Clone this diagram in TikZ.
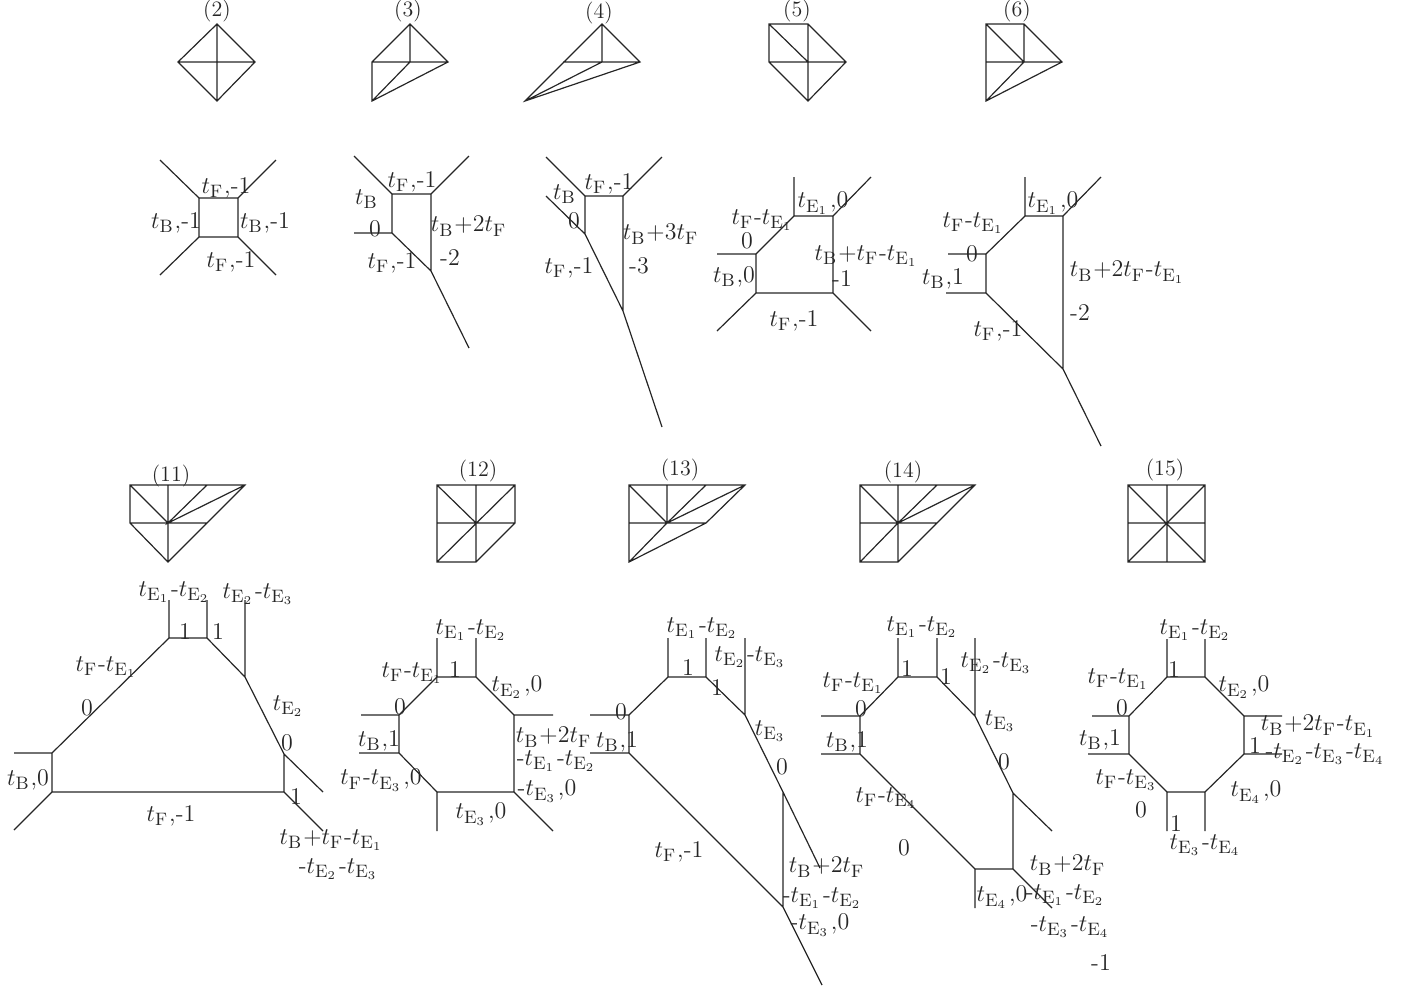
\documentclass[tikz,border=0pt]{standalone}
\newcommand{\tB}{$t_{\mathrm{B}}$}
\newcommand{\tF}{$t_{\mathrm{F}}$}
\newcommand{\tE}[1]{$t_{\mathrm{E}_{#1}}$}
\newcounter{labn}
\newcommand{\lb}[3]{\stepcounter{labn}\node[lab] (l\thelabn) at (#1,#2) {#3};}
\newcommand{\ttl}[3]{\stepcounter{labn}\node[ttlab] (l\thelabn) at (#1,#2) {#3};}
\scriptspace=1pt
\DeclareMathSizes{12}{12}{8.6}{6.2}
\tikzset{
  lab/.style={inner sep=0pt,outer sep=0pt,text=black!85,font=\fontsize{12}{14}\selectfont},
  ttlab/.style={lab,font=\fontsize{11}{13}\selectfont},
  web/.style={line width=0.6pt,line join=miter,black!85},
  toric/.style={line width=0.6pt,black!85}
}
\begin{document}
\begin{tikzpicture}[x=0.5pt,y=-0.5pt]
\useasboundingbox (0,0) rectangle (1405,987);
% ---- toric diagrams, row 1
\draw[toric] (217,24)--(255,62)--(217,101)--(178,62)--cycle (217,24)--(217,101) (178,62)--(255,62);
\draw[toric] (410,24)--(448,62)--(372,101)--(372,62)--cycle (410,24)--(410,62)--(372,101) (372,62)--(448,62);
\draw[toric] (602,24)--(640,62)--(525,101)--cycle (602,24)--(602,62)--(525,101) (563,62)--(640,62);
\draw[toric] (769,24)--(808,24)--(846,62)--(808,101)--(769,62)--cycle (769,24)--(808,62) (808,24)--(808,101) (769,62)--(846,62);
\draw[toric] (986,24)--(1024,24)--(1062,62)--(986,101)--cycle (986,24)--(1024,62)--(986,101) (1024,24)--(1024,62) (986,62)--(1062,62);
% ---- toric diagrams, row 2
\draw[toric] (130,485)--(245,485)--(168,562)--(130,523)--cycle (130,485)--(168,523) (168,485)--(168,562) (207,485)--(168,523)--(245,485) (130,523)--(207,523);
\draw[toric] (437,485)--(515,485)--(515,523)--(476,562)--(437,562)--cycle (437,485)--(476,523) (476,485)--(476,562) (515,485)--(437,562) (437,523)--(515,523);
\draw[toric] (629,485)--(745,485)--(706,523)--(629,562)--cycle (629,485)--(667,523) (667,485)--(667,523) (706,485)--(667,523)--(745,485) (667,523)--(629,562) (629,523)--(706,523);
\draw[toric] (860,485)--(975,485)--(898,562)--(860,562)--cycle (860,485)--(898,523) (898,485)--(898,562) (937,485)--(898,523)--(975,485) (898,523)--(860,562) (860,523)--(937,523);
\draw[toric] (1128,485) rectangle (1205,562) (1128,485)--(1205,562) (1205,485)--(1128,562) (1167,485)--(1167,562) (1128,523)--(1205,523);
% ---- titles
\ttl{217}{11}{(2)}\ttl{408}{11}{(3)}\ttl{599}{13}{(4)}\ttl{797}{11}{(5)}\ttl{1017}{11}{(6)}
\ttl{171}{476}{(11)}\ttl{478}{471}{(12)}\ttl{680}{470}{(13)}\ttl{903}{472}{(14)}\ttl{1165}{470}{(15)}
% ---- web (2)
\draw[web] (199,198) rectangle (238,237) (199,198)--(160,160) (238,198)--(276,160) (199,237)--(160,275) (238,237)--(276,275);
\lb{226}{188}{\tF,-1}\lb{176}{223}{\tB,-1}\lb{265}{223}{\tB,-1}\lb{231}{262}{\tF,-1}
% ---- web (3)
\draw[web] (392,194)--(431,194)--(431,271)--(392,233)--cycle (392,194)--(354,156) (431,194)--(469,156) (392,233)--(354,233) (431,271)--(469,348);
\lb{412}{182}{\tF,-1}\lb{367}{199}{\tB}\lb{375}{229}{0}\lb{469}{226}{\tB+2\tF}\lb{450}{258}{-2}\lb{392}{263}{\tF,-1}
% ---- web (4)
\draw[web] (585,196)--(623,196)--(623,311)--(585,234)--cycle (585,196)--(546,157) (623,196)--(662,157) (585,234)--(546,196) (623,311)--(662,427);
\lb{609}{184}{\tF,-1}\lb{565}{194}{\tB}\lb{574}{221}{0}\lb{661}{234}{\tB+3\tF}\lb{639}{266}{-3}\lb{569}{268}{\tF,-1}
% ---- web (5)
\draw[web] (794,216)--(833,216)--(833,293)--(756,293)--(756,254)--cycle (794,216)--(794,177) (833,216)--(871,177) (756,254)--(717,254) (756,293)--(717,331) (833,293)--(871,331);
\lb{823}{203}{\tE{1},0}\lb{763}{220}{\tF-\tE{1}}\lb{747}{241}{0}\lb{867}{256}{\tB+\tF-\tE{1}}\lb{842}{279}{-1}\lb{734}{277}{\tB,0}\lb{794}{321}{\tF,-1}
% ---- web (6)
\draw[web] (1025,216)--(1063,216)--(1063,369)--(986,293)--(986,254)--cycle (1025,216)--(1025,177) (1063,216)--(1101,177) (986,254)--(948,254) (986,293)--(946,293) (1063,369)--(1101,446);
\lb{1053}{203}{\tE{1},0}\lb{974}{223}{\tF-\tE{1}}\lb{972}{254}{0}\lb{1128}{272}{\tB+2\tF-\tE{1}}\lb{1080}{313}{-2}\lb{943}{279}{\tB,1}\lb{998}{331}{\tF,-1}
% ---- web (11)
\draw[web] (169,638)--(207,638)--(245,677)--(284,754)--(284,792)--(52,792)--(52,753)--cycle (169,638)--(169,600) (207,638)--(207,600) (245,677)--(245,600) (284,754)--(323,792) (284,792)--(323,831) (52,753)--(14,753) (52,792)--(14,830);
\lb{175}{592}{\tE{1}-\tE{2}}\lb{259}{594}{\tE{2}-\tE{3}}\lb{185}{632}{1}\lb{218}{632}{1}\lb{107}{667}{\tF-\tE{1}}\lb{87}{708}{0}\lb{289}{706}{\tE{2}}\lb{287}{743}{0}\lb{28}{780}{\tB,0}\lb{171}{816}{\tF,-1}\lb{296}{797}{1}\lb{332}{840}{\tB+\tF-\tE{1}}\lb{339}{869}{-\tE{2}-\tE{3}}
% ---- web (12)
\draw[web] (437,677)--(476,677)--(514,715)--(514,792)--(437,792)--(399,753)--(399,715)--cycle (437,677)--(437,638) (476,677)--(476,638) (514,715)--(553,715) (399,715)--(361,715) (399,753)--(359,753) (437,792)--(437,831) (514,792)--(553,831);
\lb{472}{630}{\tE{1}-\tE{2}}\lb{455}{670}{1}\lb{413}{673}{\tF-\tE{1}}\lb{400}{707}{0}\lb{517}{687}{\tE{2},0}\lb{379}{741}{\tB,1}\lb{554}{737}{\tB+2\tF}\lb{557}{761}{-\tE{1}-\tE{2}}\lb{547}{791}{-\tE{3},0}\lb{381}{780}{\tF-\tE{3},0}\lb{481}{814}{\tE{3},0}
% ---- web (13)
\draw[web] (668,677)--(706,677)--(745,715)--(783,792)--(783,907)--(629,753)--(629,715)--cycle (668,677)--(668,638) (706,677)--(706,638) (745,715)--(745,638) (783,792)--(820,868) (783,907)--(822,985) (629,715)--(590,715) (629,753)--(590,753);
\lb{703}{628}{\tE{1}-\tE{2}}\lb{688}{668}{1}\lb{751}{657}{\tE{2}-\tE{3}}\lb{717}{688}{1}\lb{621}{712}{0}\lb{617}{742}{\tB,1}\lb{771}{731}{\tE{3}}\lb{782}{767}{0}\lb{679}{852}{\tF,-1}\lb{827}{867}{\tB+2\tF}\lb{823}{898}{-\tE{1}-\tE{2}}\lb{820}{925}{-\tE{3},0}
% ---- web (14)
\draw[web] (898,677)--(937,677)--(975,716)--(1013,793)--(1013,869)--(975,869)--(860,754)--(860,716)--cycle (898,677)--(898,638) (937,677)--(937,638) (975,716)--(975,638) (1013,793)--(1052,831) (1013,869)--(1052,908) (975,869)--(975,908) (860,716)--(821,716) (860,754)--(821,754);
\lb{923}{627}{\tE{1}-\tE{2}}\lb{907}{669}{1}\lb{946}{677}{1}\lb{854}{683}{\tF-\tE{1}}\lb{861}{709}{0}\lb{997}{663}{\tE{2}-\tE{3}}\lb{1001}{721}{\tE{3}}\lb{847}{742}{\tB,1}\lb{1004}{762}{0}\lb{887}{798}{\tF-\tE{4}}\lb{904}{848}{0}\lb{1068}{865}{\tB+2\tF}\lb{1002}{897}{\tE{4},0}\lb{1066}{895}{-\tE{1}-\tE{2}}\lb{1071}{927}{-\tE{3}-\tE{4}}\lb{1101}{963}{-1}
% ---- web (15)
\draw[web] (1167,677)--(1205,677)--(1244,716)--(1244,754)--(1205,792)--(1167,792)--(1129,754)--(1129,716)--cycle (1167,677)--(1167,639) (1205,677)--(1205,639) (1244,716)--(1282,716) (1244,754)--(1282,754) (1205,792)--(1205,831) (1167,792)--(1167,831) (1129,716)--(1092,716) (1129,754)--(1088,754);
\lb{1196}{630}{\tE{1}-\tE{2}}\lb{1174}{670}{1}\lb{1119}{679}{\tF-\tE{1}}\lb{1122}{708}{0}\lb{1244}{687}{\tE{2},0}\lb{1100}{740}{\tB,1}\lb{1319}{726}{\tB+2\tF-\tE{1}}\lb{1255}{746}{1}\lb{1326}{754}{-\tE{2}-\tE{3}-\tE{4}}\lb{1127}{780}{\tF-\tE{3}}\lb{1141}{810}{0}\lb{1256}{792}{\tE{4},0}\lb{1176}{824}{1}\lb{1206}{845}{\tE{3}-\tE{4}}
\end{tikzpicture}
\end{document}
